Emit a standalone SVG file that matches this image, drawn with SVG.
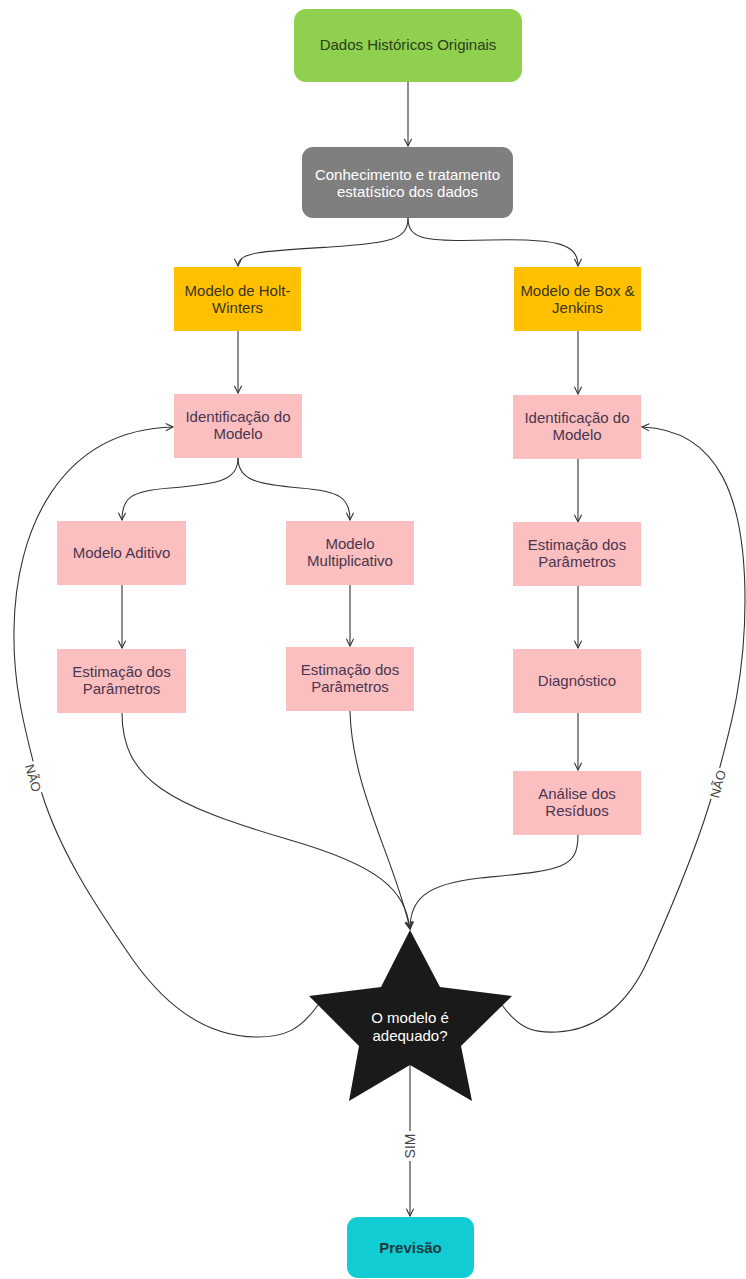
<svg xmlns="http://www.w3.org/2000/svg" width="746" height="1279" viewBox="0 0 746 1279">
<defs>
<style>
.t{font-family:"Liberation Sans",Arial,sans-serif;font-size:15px;text-anchor:middle}
.pk{fill:#fbbfbf}
.pt{fill:#4a3550}
.yt{fill:#3a3320}
.c{fill:none;stroke:#333;stroke-width:1.1}
.lb{font-family:"Liberation Sans",Arial,sans-serif;font-size:13px;text-anchor:middle;fill:#444}
</style>
<marker id="arr" viewBox="0 0 10 10" refX="9" refY="5" markerWidth="9" markerHeight="9" orient="auto" markerUnits="userSpaceOnUse">
<path d="M1,1 L9,5 L1,9" fill="none" stroke="#333" stroke-width="1.2"/>
</marker>
</defs>
<rect width="746" height="1279" fill="#fff"/>

<g id="connectors">
<path class="c" d="M408,82 L408,146" marker-end="url(#arr)"/>
<path class="c" d="M408,218 C408,240 390,243 330,247 C262,251 238,252 238,266" marker-end="url(#arr)"/>
<path class="c" d="M408,218 C408,240 426,242 490,240 C560,238 578,245 578,266" marker-end="url(#arr)"/>
<path class="c" d="M238,331 L238,393" marker-end="url(#arr)"/>
<path class="c" d="M578,331 L578,394" marker-end="url(#arr)"/>
<path class="c" d="M238,458 C238,480 220,484 170,488 C130,491 122,498 122,520" marker-end="url(#arr)"/>
<path class="c" d="M238,458 C238,480 256,484 300,488 C340,491 350,498 350,520" marker-end="url(#arr)"/>
<path class="c" d="M122,585 L122,648" marker-end="url(#arr)"/>
<path class="c" d="M350,585 L350,646" marker-end="url(#arr)"/>
<path class="c" d="M578,459 L578,522" marker-end="url(#arr)"/>
<path class="c" d="M578,586 L578,648" marker-end="url(#arr)"/>
<path class="c" d="M578,713 L578,770" marker-end="url(#arr)"/>
<path class="c" d="M122,713 C122,780 170,805 290,840 C380,866 405,890 410,929" marker-end="url(#arr)"/>
<path class="c" d="M350,711 C352,790 395,860 410,929" marker-end="url(#arr)"/>
<path class="c" d="M578,835 C578,870 560,870 480,878 C425,884 410,900 410,929" marker-end="url(#arr)"/>
<path class="c" d="M318,1005 C300,1030 285,1037 257,1037 C205,1037 165,1005 133,960 C95,905 55,845 38,780 C22,720 13,680 14,630 C15,530 60,430 173,427" marker-end="url(#arr)"/>
<path class="c" d="M502,1005 C520,1030 535,1033 557,1032 C600,1030 630,1000 648,960 C675,900 700,840 715,785 C730,730 745,680 745,600 C745,500 720,430 642,427" marker-end="url(#arr)"/>
<path class="c" d="M410,1065 L410,1216" marker-end="url(#arr)"/>
<g transform="translate(33,778) rotate(74)">
<rect x="-16" y="-8" width="32" height="16" fill="#fff"/>
<text class="lb" x="0" y="4.5">NÃO</text>
</g>
<g transform="translate(718,784) rotate(-75)">
<rect x="-16" y="-8" width="32" height="16" fill="#fff"/>
<text class="lb" x="0" y="4.5">NÃO</text>
</g>
<g transform="translate(410,1146) rotate(-90)">
<rect x="-15" y="-8" width="30" height="16" fill="#fff"/>
<text class="lb" x="0" y="4.5" style="font-size:14px">SIM</text>
</g>
</g>

<g id="dados">
<rect x="294" y="9" width="228" height="73" rx="12" fill="#8fd14f"/>
<text class="t" x="408" y="50" fill="#2a3d22">Dados Históricos Originais</text>
</g>
<g id="conhecimento">
<rect x="302" y="147" width="211" height="71" rx="11" fill="#7f7f7f"/>
<text class="t" x="407.5" y="180" fill="#fff">Conhecimento e tratamento</text>
<text class="t" x="407.5" y="197" fill="#fff">estatístico dos dados</text>
</g>
<g id="holt">
<rect x="174" y="267" width="127" height="64" fill="#ffc000"/>
<text class="t yt" x="237.5" y="296">Modelo de Holt-</text>
<text class="t yt" x="237.5" y="313">Winters</text>
</g>
<g id="box">
<rect x="514" y="267" width="127" height="64" fill="#ffc000"/>
<text class="t yt" x="577.5" y="296">Modelo de Box &amp;</text>
<text class="t yt" x="577.5" y="313">Jenkins</text>
</g>
<g id="ident-hw">
<rect class="pk" x="174" y="394" width="128" height="64"/>
<text class="t pt" x="238" y="422">Identificação do</text>
<text class="t pt" x="238" y="439">Modelo</text>
</g>
<g id="ident-bj">
<rect class="pk" x="513" y="395" width="128" height="64"/>
<text class="t pt" x="577" y="423">Identificação do</text>
<text class="t pt" x="577" y="440">Modelo</text>
</g>
<g id="aditivo">
<rect class="pk" x="57" y="521" width="129" height="64"/>
<text class="t pt" x="121.5" y="558">Modelo Aditivo</text>
</g>
<g id="multiplicativo">
<rect class="pk" x="286" y="521" width="128" height="64"/>
<text class="t pt" x="350" y="549">Modelo</text>
<text class="t pt" x="350" y="566">Multiplicativo</text>
</g>
<g id="estimacao-bj">
<rect class="pk" x="513" y="522" width="128" height="64"/>
<text class="t pt" x="577" y="550">Estimação dos</text>
<text class="t pt" x="577" y="567">Parâmetros</text>
</g>
<g id="estimacao-ad">
<rect class="pk" x="57" y="649" width="129" height="64"/>
<text class="t pt" x="121.5" y="677">Estimação dos</text>
<text class="t pt" x="121.5" y="694">Parâmetros</text>
</g>
<g id="estimacao-mu">
<rect class="pk" x="286" y="647" width="128" height="64"/>
<text class="t pt" x="350" y="675">Estimação dos</text>
<text class="t pt" x="350" y="692">Parâmetros</text>
</g>
<g id="diagnostico">
<rect class="pk" x="513" y="649" width="128" height="64"/>
<text class="t pt" x="577" y="686">Diagnóstico</text>
</g>
<g id="analise">
<rect class="pk" x="513" y="771" width="128" height="64"/>
<text class="t pt" x="577" y="799">Análise dos</text>
<text class="t pt" x="577" y="816">Resíduos</text>
</g>
<g id="adequado">
<polygon points="410,930 440,987 512,996 461,1046 472,1101 410,1065 349,1101 359,1046 309,996 381,987" fill="#1a1a1a"/>
<text class="t" x="410" y="1023" fill="#fff">O modelo é</text>
<text class="t" x="410" y="1041" fill="#fff">adequado?</text>
</g>
<g id="previsao">
<rect x="347" y="1217" width="127" height="61" rx="11" fill="#12ccd4"/>
<text class="t" x="410.5" y="1253" fill="#1a3a40" font-weight="bold">Previsão</text>
</g>
</svg>
